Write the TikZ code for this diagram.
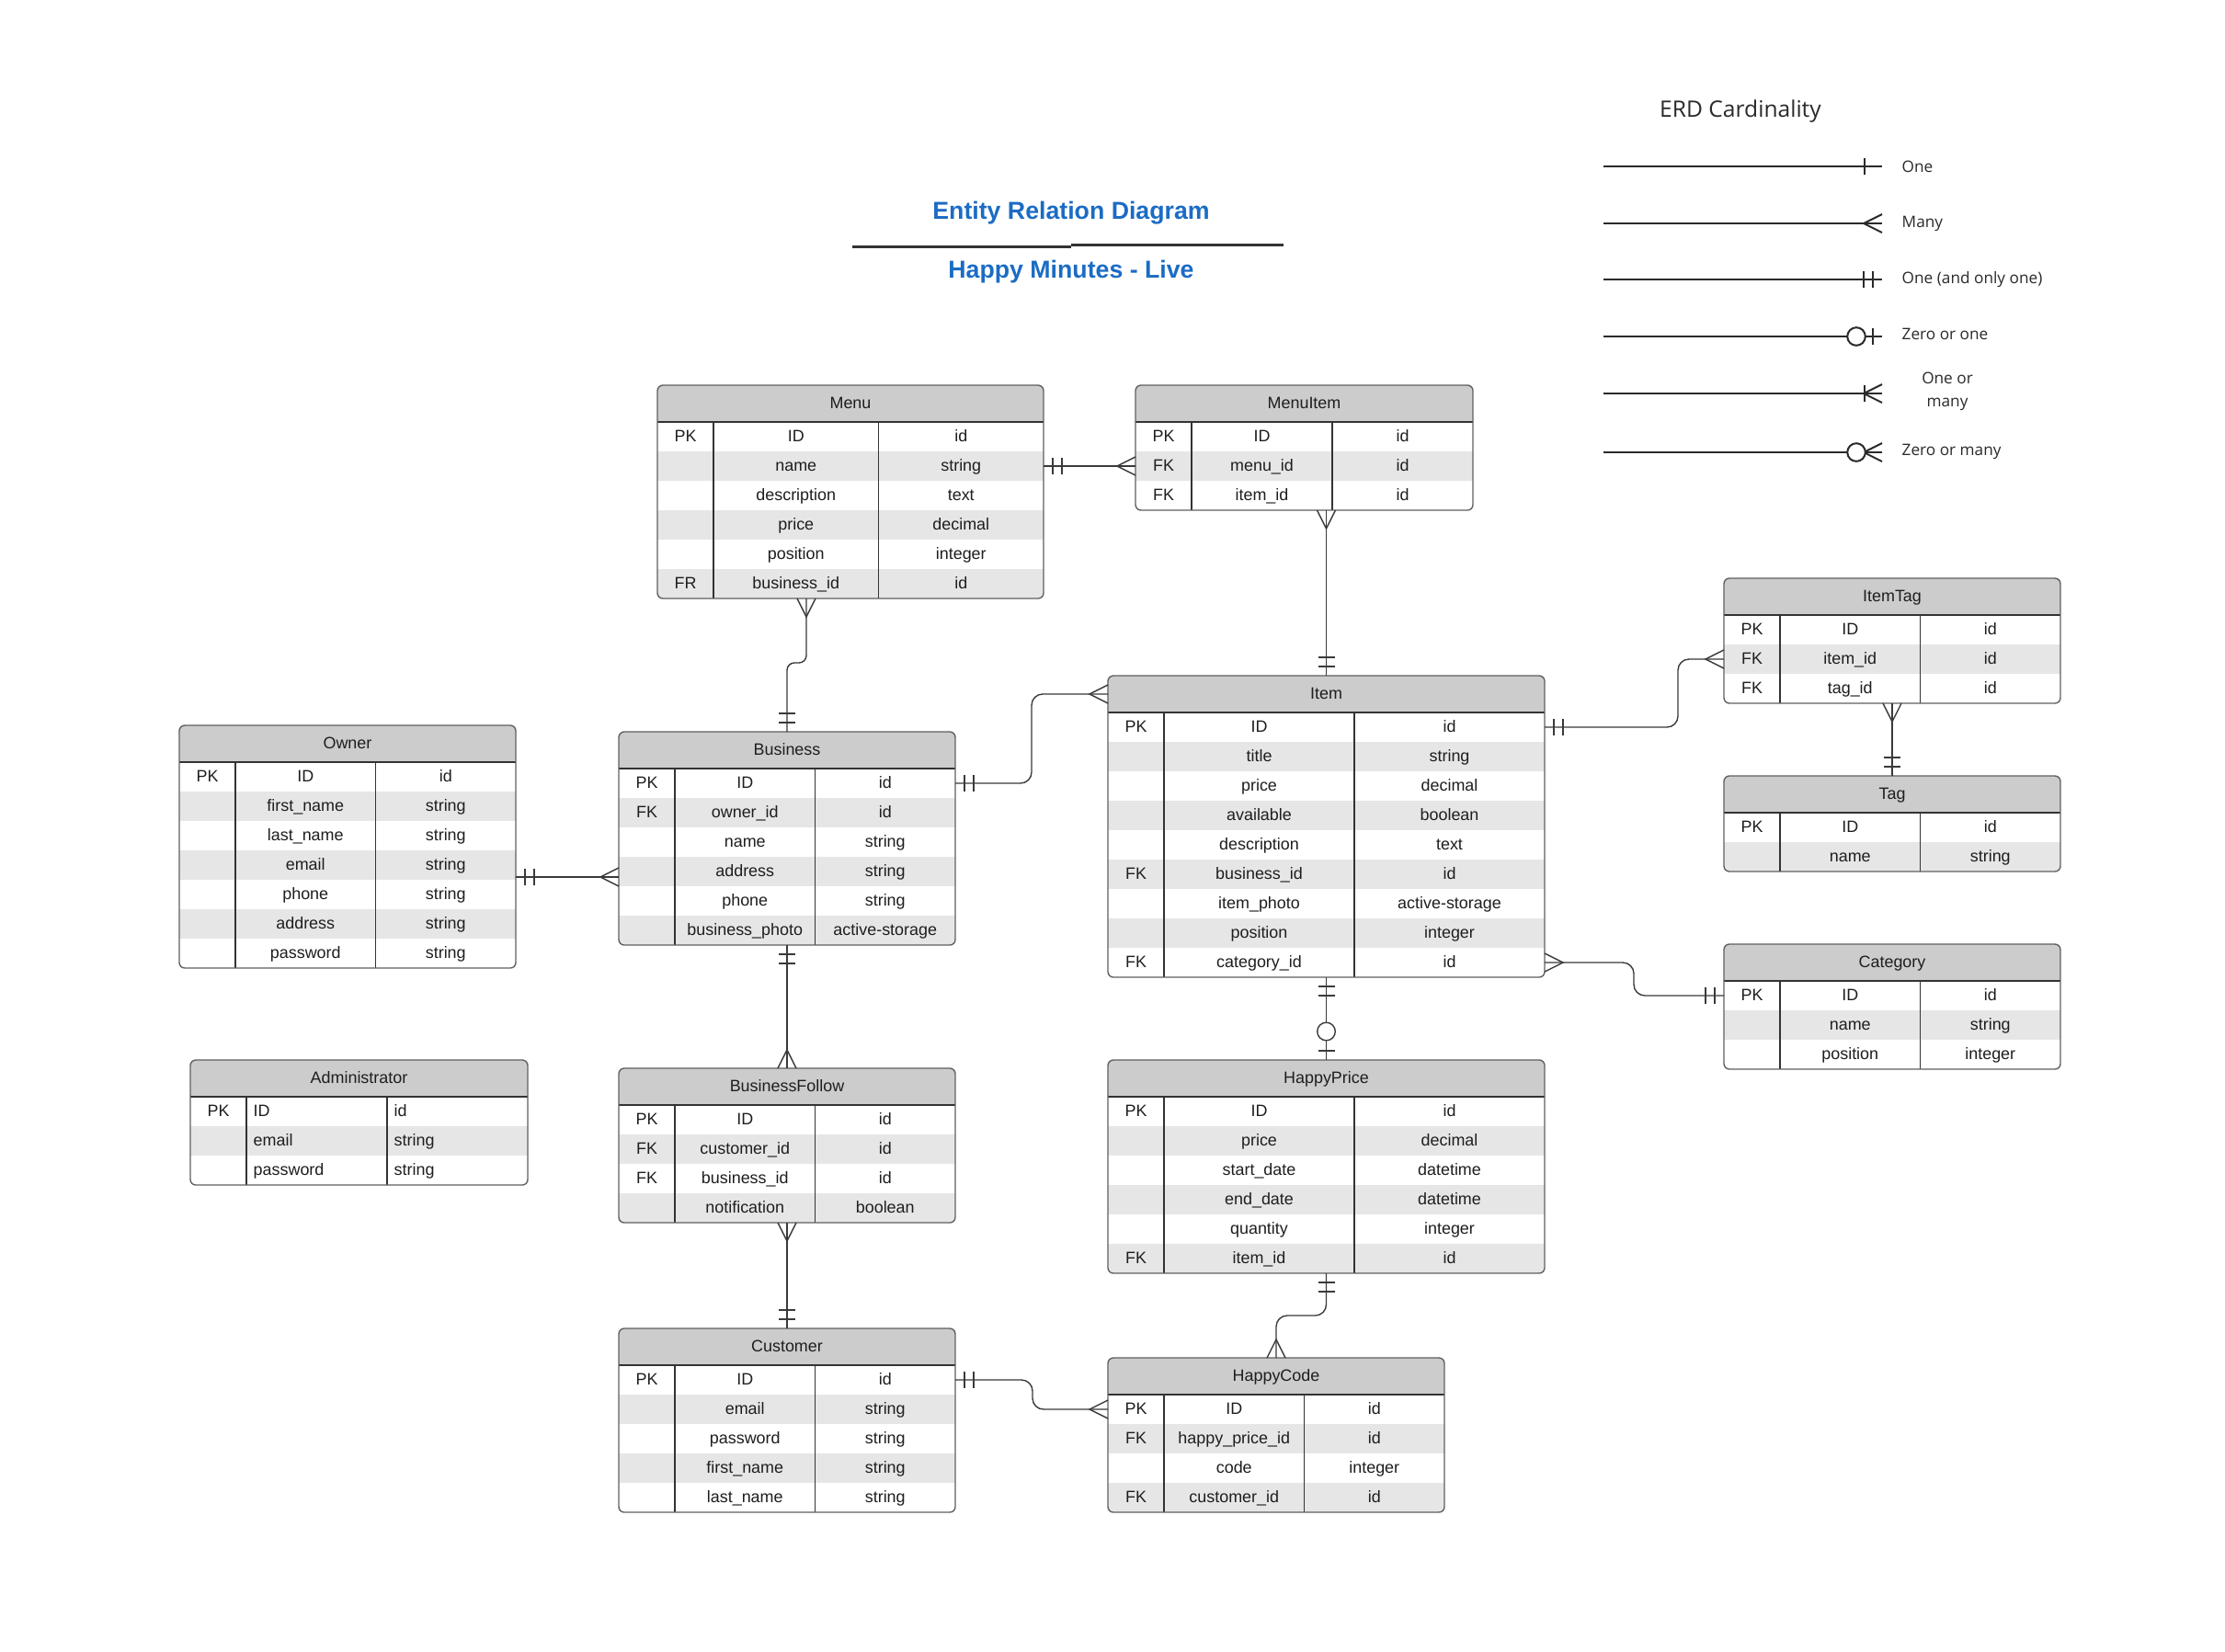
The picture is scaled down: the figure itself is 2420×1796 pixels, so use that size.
\documentclass[tikz,border=0pt]{standalone}
\usepackage{fontspec}
\setmainfont{Liberation Sans}
\newfontfamily\legendfont{Open Sans}

\definecolor{headfill}{HTML}{CCCCCC}
\definecolor{rowfill}{HTML}{E6E6E6}
\definecolor{framegray}{HTML}{606060}
\definecolor{innergray}{HTML}{333333}
\definecolor{linegray}{HTML}{3A3A3A}
\definecolor{textgray}{HTML}{1E1E1E}
\definecolor{legendgray}{HTML}{2A2A2A}
\definecolor{titleblue}{HTML}{1B6CC4}

\newcommand{\cellfont}{\fontsize{5.1pt}{6pt}\selectfont}

\tikzset{
  tblframe/.style={draw=framegray, line width=0.14mm, rounded corners=0.6mm},
  tblinner/.style={draw=innergray, line width=0.12mm},
  rowbox/.style={inner sep=0, outer sep=0, minimum height=3.2mm, anchor=north west},
  cell/.style={inner sep=0, font=\cellfont, text=textgray, text height=1.0mm, text depth=0mm},
  conn/.style={color=linegray, line width=0.14mm},
  legline/.style={color=legendgray, line width=0.2mm},
  legtext/.style={font=\legendfont\fontsize{4.9pt}{6.2pt}\selectfont, text=legendgray, inner sep=0},
  titletext/.style={font=\fontsize{7.6pt}{9pt}\selectfont\bfseries, text=titleblue, inner sep=0},
  % cardinality marks, drawn with the local x axis pointing away from the entity
  pics/crow/.style={code={\draw (0,-10) -- (20,0) -- (0,10);}},
  pics/bars/.style={code={\draw (10,-9) -- (10,9) (20,-9) -- (20,9);}},
  pics/tick/.style={code={\draw (#1,-9) -- (#1,9);}},
  pics/ring/.style={code={\draw[fill=white] (#1,0) circle[radius=0.98mm];}},
}

% \erdtable[align]{name}{title}{left}{top}{width}{key/field/type, ...}
\newcommand{\erdtable}[7][c]{%
  \foreach \erdrow [count=\erdc] in {#7} {\xdef\erdn{\erdc}}%
  \pgfmathsetmacro\erdh{40+32*\erdn}%
  \pgfmathsetmacro\erdca{#4+61}%
  \pgfmathsetmacro\erdcb{(#4+61+#4+#6)/2}%
  \pgfmathsetmacro\erdxa{(\erdca+\erdcb)/2}%
  \pgfmathsetmacro\erdxb{(\erdcb+#4+#6)/2}%
  \node[inner sep=0, outer sep=0, minimum width=#6*0.1mm, minimum height=\erdh*0.1mm, anchor=north west] (#2) at (#4,#5) {};
  \node[inner sep=0, outer sep=0, minimum width=#6*0.1mm, minimum height=4mm, anchor=north west] (#2-h) at (#4,#5) {};
  \begin{scope}
    \clip[rounded corners=0.6mm] (#4,#5) rectangle ++(#6,\erdh);
    \fill[headfill] (#4,#5) rectangle ++(#6,40);
    \foreach \ek/\ef/\et [count=\i] in {#7} {
      \pgfmathsetmacro\ry{#5+40+32*(\i-1)}
      \pgfmathsetmacro\rc{\ry+16}
      \ifodd\i\else\fill[rowfill] (#4,\ry) rectangle ++(#6,32);\fi
      \node[rowbox, minimum width=#6*0.1mm] (#2-r\i) at (#4,\ry) {};
      \node[cell] at (#4+30.5,\rc) {\ek};
      \if#1l
        \node[cell, anchor=west] at (\erdca+7,\rc) {\ef};
        \node[cell, anchor=west] at (\erdcb+7,\rc) {\et};
      \else
        \node[cell] at (\erdxa,\rc) {\ef};
        \node[cell] at (\erdxb,\rc) {\et};
      \fi
    }
  \end{scope}
  \node[cell] at (#4+#6/2,#5+20) {#3};
  \draw[tblinner] (#4,#5+40) -- ++(#6,0);
  \draw[tblinner] (\erdca,#5+40) -- (\erdca,#5+\erdh);
  \draw[tblinner] (\erdcb,#5+40) -- (\erdcb,#5+\erdh);
  \draw[tblframe] (#4,#5) rectangle ++(#6,\erdh);
}

\begin{document}
\begin{tikzpicture}[x=0.1mm,y=-0.1mm]
\useasboundingbox[fill=white] (0,0) rectangle (2420,1796);

% ---------- title ----------
\node[titletext] (title) at (1165,232) {Entity Relation Diagram};
\node[titletext] (subtitle) at (1165,296) {Happy Minutes - Live};
\draw[innergray, line width=0.3mm] (927,268) -- (1165,268);
\draw[innergray, line width=0.3mm] (1165,266.5) -- (1396,266.5);

% ---------- legend ----------
\node[legtext, font=\legendfont\fontsize{7pt}{8.4pt}\selectfont] (legtitle) at (1893,121) {ERD Cardinality};
\foreach \n/\yy in {1/181, 2/243, 3/304, 4/366, 5/428, 6/492} {
  \coordinate (la\n) at (1744,\yy);
  \coordinate (lb\n) at (2047,\yy);
  \draw[legline] (la\n) -- (lb\n);
}
\pic[legline, rotate=180] at (lb1) {tick=19};
\pic[legline, rotate=180] at (lb2) {crow};
\pic[legline, rotate=180] at (lb3) {bars};
\pic[legline, rotate=180] at (lb4) {tick=10};
\pic[legline, rotate=180] at (lb4) {ring=28};
\pic[legline, rotate=180] at (lb5) {crow};
\pic[legline, rotate=180] at (lb5) {tick=19};
\pic[legline, rotate=180] at (lb6) {crow};
\pic[legline, rotate=180] at (lb6) {ring=28};
\node[legtext, anchor=west] (lt1) at (2068,181) {One};
\node[legtext, anchor=west] (lt2) at (2068,243) {Many};
\node[legtext, anchor=west] (lt3) at (2068,304) {One (and only one)};
\node[legtext, anchor=west] (lt4) at (2068,363) {Zero or one};
\node[legtext, align=center] (lt5) at (2118,426) {One or\\[0.35mm]many};
\node[legtext, anchor=west] (lt6) at (2068,491) {Zero or many};

% ---------- entities ----------
\erdtable{menu}{Menu}{715}{419}{420}{PK/ID/id, /name/string, /description/text, /price/decimal, /position/integer, FR/business\_id/id}
\erdtable{menuitem}{MenuItem}{1235}{419}{367}{PK/ID/id, FK/menu\_id/id, FK/item\_id/id}
\erdtable{owner}{Owner}{195}{789}{366}{PK/ID/id, /first\_name/string, /last\_name/string, /email/string, /phone/string, /address/string, /password/string}
\erdtable{business}{Business}{673}{796}{366}{PK/ID/id, FK/owner\_id/id, /name/string, /address/string, /phone/string, /business\_photo/active-storage}
\erdtable{item}{Item}{1205}{735}{475}{PK/ID/id, /title/string, /price/decimal, /available/boolean, /description/text, FK/business\_id/id, /item\_photo/active-storage, /position/integer, FK/category\_id/id}
\erdtable{itemtag}{ItemTag}{1875}{629}{366}{PK/ID/id, FK/item\_id/id, FK/tag\_id/id}
\erdtable{tag}{Tag}{1875}{844}{366}{PK/ID/id, /name/string}
\erdtable{category}{Category}{1875}{1027}{366}{PK/ID/id, /name/string, /position/integer}
\erdtable[l]{admin}{Administrator}{207}{1153}{367}{PK/ID/id, /email/string, /password/string}
\erdtable{bfollow}{BusinessFollow}{673}{1162}{366}{PK/ID/id, FK/customer\_id/id, FK/business\_id/id, /notification/boolean}
\erdtable{happyprice}{HappyPrice}{1205}{1153}{475}{PK/ID/id, /price/decimal, /start\_date/datetime, /end\_date/datetime, /quantity/integer, FK/item\_id/id}
\erdtable{customer}{Customer}{673}{1445}{366}{PK/ID/id, /email/string, /password/string, /first\_name/string, /last\_name/string}
\erdtable{happycode}{HappyCode}{1205}{1477}{366}{PK/ID/id, FK/happy\_price\_id/id, /code/integer, FK/customer\_id/id}

% ---------- relationships ----------
\coordinate (menuout) at ([xshift=-4.8mm]menu.south);
\coordinate (ownerout) at ([yshift=-3.3mm]owner.east);

\draw[conn] (menu-r2.east) -- (menuitem-r2.west);
\draw[conn] (menuitem.south -| item.north) -- (item.north);
\draw[conn, rounded corners=0.8mm] (menuout) -- ++(0,70) -| (business.north);
\draw[conn] (ownerout) -- (ownerout -| business.west);
\draw[conn, rounded corners=1.2mm] (business-r1.east) -- ++(83,0) |- (item-h.west);
\draw[conn, rounded corners=1.2mm] (item-r1.east) -- ++(145,0) |- (itemtag-r2.west);
\draw[conn] (itemtag.south) -- (tag.north);
\draw[conn, rounded corners=1.2mm] (item-r9.east) -- ++(97,0) |- (category-r1.west);
\draw[conn] (item.south) -- (happyprice.north);
\draw[conn, rounded corners=1.2mm] (happyprice.south) -- ++(0,46) -| (happycode.north);
\draw[conn] (business.south) -- (bfollow.north);
\draw[conn] (bfollow.south) -- (customer.north);
\draw[conn, rounded corners=1.2mm] (customer-r1.east) -- ++(84,0) |- (happycode-r1.west);

% cardinality marks
\pic[conn] at (menu-r2.east) {bars};
\pic[conn, rotate=180] at (menuitem-r2.west) {crow};
\pic[conn, rotate=-90] at (menuitem.south -| item.north) {crow};
\pic[conn, rotate=90] at (item.north) {bars};
\pic[conn, rotate=-90] at (menuout) {crow};
\pic[conn, rotate=90] at (business.north) {bars};
\pic[conn] at (ownerout) {bars};
\pic[conn, rotate=180] at (ownerout -| business.west) {crow};
\pic[conn] at (business-r1.east) {bars};
\pic[conn, rotate=180] at (item-h.west) {crow};
\pic[conn] at (item-r1.east) {bars};
\pic[conn, rotate=180] at (itemtag-r2.west) {crow};
\pic[conn, rotate=-90] at (itemtag.south) {crow};
\pic[conn, rotate=90] at (tag.north) {bars};
\pic[conn] at (item-r9.east) {crow};
\pic[conn, rotate=180] at (category-r1.west) {bars};
\pic[conn, rotate=-90] at (item.south) {bars};
\pic[conn, rotate=90] at (happyprice.north) {tick=10};
\pic[conn, rotate=90] at (happyprice.north) {ring=31};
\pic[conn, rotate=-90] at (happyprice.south) {bars};
\pic[conn, rotate=90] at (happycode.north) {crow};
\pic[conn, rotate=-90] at (business.south) {bars};
\pic[conn, rotate=90] at (bfollow.north) {crow};
\pic[conn, rotate=-90] at (bfollow.south) {crow};
\pic[conn, rotate=90] at (customer.north) {bars};
\pic[conn] at (customer-r1.east) {bars};
\pic[conn, rotate=180] at (happycode-r1.west) {crow};
\end{tikzpicture}
\end{document}
